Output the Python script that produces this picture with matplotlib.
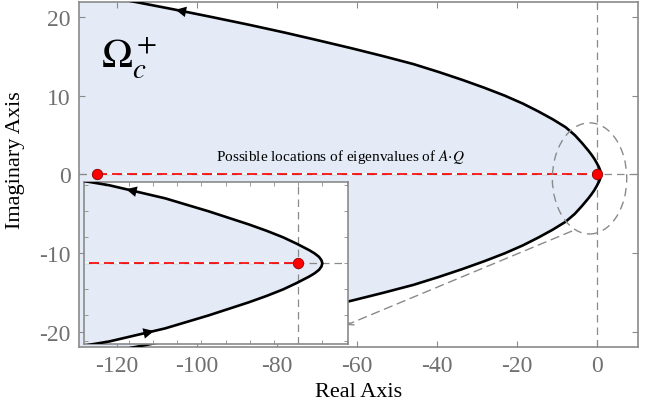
import matplotlib.pyplot as plt
import numpy as np
from matplotlib.patches import Ellipse
from matplotlib.ticker import MultipleLocator, NullFormatter

plt.rcParams['font.family'] = ['Liberation Serif', 'DejaVu Serif']
plt.rcParams['mathtext.fontset'] = 'stix'
plt.rcParams['axes.unicode_minus'] = False

# upper half of the boundary of Omega_c^+ (mirrored for the lower half)
imag_half = [0, 0.25, 0.5, 0.75, 1, 1.5, 2, 2.5, 3, 4, 5, 6, 7, 8, 9, 10,
             11, 12, 13, 14, 15, 16, 17, 18, 19, 20, 21, 22]
real_half = [1.0, 0.96, 0.86, 0.69, 0.47, -0.05, -0.62, -1.3, -2.05, -3.7,
             -5.5, -7.8, -11.0, -14.6, -18.5, -23.0, -28.1, -33.6, -39.5,
             -45.8, -53.3, -61.2, -69.5, -78.0, -87.0, -96.5, -106.3, -116.5]

# eigenvalue locations of A*Q
eig_real = [-125, 0]
eig_imag = [0, 0]

xticks = [-120, -100, -80, -60, -40, -20, 0]
yticks = [-20, -10, 0, 10, 20]

FILL = '#e4ebf6'
GRAY = '#8a8a8a'

imag = np.concatenate([-np.array(imag_half[::-1]), np.array(imag_half[1:])])
real = np.concatenate([np.array(real_half[::-1]), np.array(real_half[1:])])


def curve_arrow(ax, y_tail, y_head, size):
    x_tail = np.interp(y_tail, imag, real)
    x_head = np.interp(y_head, imag, real)
    ax.annotate('', xy=(x_head, y_head), xytext=(x_tail, y_tail),
                arrowprops=dict(arrowstyle='-|>', color='k', lw=0,
                                mutation_scale=size, shrinkA=0, shrinkB=0),
                zorder=4)


def draw_region(ax):
    ax.fill_betweenx(imag, -500, real, color=FILL, lw=0, zorder=0)
    ax.plot(real, imag, color='k', lw=1.9, zorder=3)
    ax.axvline(0, color=GRAY, ls=(0, (6, 4)), lw=0.9, zorder=1)
    ax.axhline(0, color=GRAY, ls=(0, (6, 4)), lw=0.9, zorder=1)
    ax.plot(eig_real, eig_imag, color='red', ls=(0, (6, 3)), lw=1.2,
            gapcolor='white', zorder=2)
    ax.plot(eig_real, eig_imag, 'o', mfc='red', mec='#8b0000', mew=0.6,
            ms=7.5, zorder=5)


fig = plt.figure(figsize=(6.57, 4.10), dpi=100)
ax = fig.add_axes([0.120, 0.151, 0.851, 0.842])
draw_region(ax)

ax.add_patch(Ellipse((-1.8, -0.5), 18.6, 14.1, fill=False, ec=GRAY,
                     ls=(0, (6, 4)), lw=1.0, zorder=4))
ax.annotate('', xy=(-62.6, -19.1), xytext=(-6.3, -7.2),
            arrowprops=dict(arrowstyle='->', color=GRAY, ls=(0, (6, 4)),
                            lw=1.0, shrinkA=0, shrinkB=0))
curve_arrow(ax, 19.8, 20.9, 19)
curve_arrow(ax, -20.9, -19.8, 19)

ax.text(-64, 2.3, r'Possible locations of eigenvalues of $A{\cdot}Q$',
        ha='center', va='center', fontsize=11)
ax.text(-117, 15.0, r'$\Omega_c^+$', ha='center', va='center', fontsize=30)

ax.set_xlim(-129.5, 10.3)
ax.set_ylim(-21.9, 21.9)
ax.set_xticks(xticks)
ax.set_yticks(yticks)
ax.tick_params(direction='in', top=True, right=True, length=4, width=0.8,
               color=GRAY, labelcolor='#707070', labelsize=17, pad=6)
for s in ax.spines.values():
    s.set_color(GRAY)
    s.set_linewidth(1.2)
ax.set_xlabel('Real Axis', fontsize=16, labelpad=4)
ax.set_ylabel('Imaginary Axis', fontsize=16)
ax.yaxis.set_label_coords(-0.097, 0.545)

# zoomed view of the vertex
axin = fig.add_axes([0.1279, 0.1585, 0.4018, 0.3944])
axin.set_facecolor('white')
draw_region(axin)
curve_arrow(axin, 4.9, 5.7, 19)
curve_arrow(axin, -6.0, -5.2, 19)
axin.set_xlim(-8.85, 2.06)
axin.set_ylim(-6.2, 6.23)
axin.xaxis.set_major_locator(MultipleLocator(1))
axin.yaxis.set_major_locator(MultipleLocator(2))
axin.xaxis.set_major_formatter(NullFormatter())
axin.yaxis.set_major_formatter(NullFormatter())
axin.tick_params(direction='in', top=True, right=True, length=3, width=0.6,
                 color=GRAY)
for s in axin.spines.values():
    s.set_color(GRAY)
    s.set_linewidth(1.2)

fig.savefig('out.png', dpi=100)
